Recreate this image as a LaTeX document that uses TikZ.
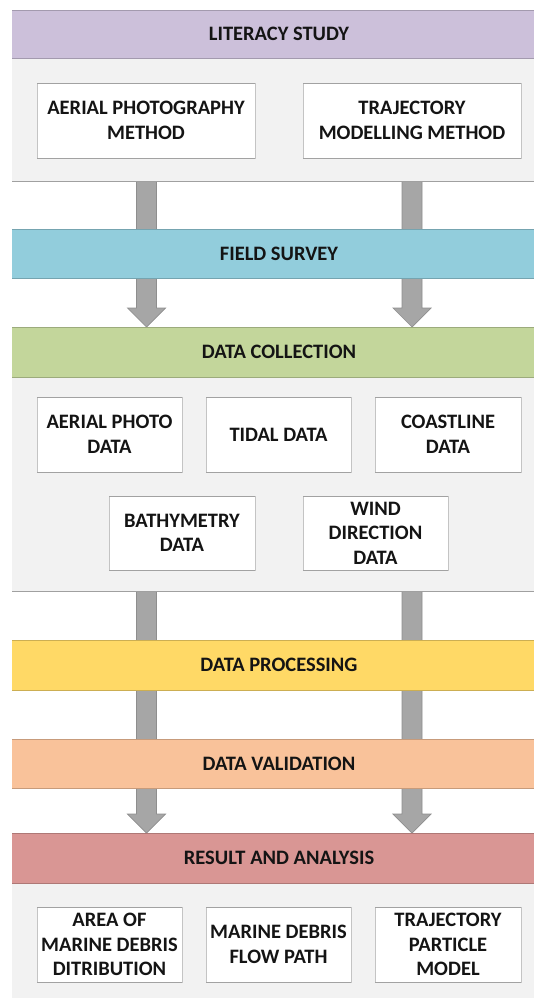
\documentclass[tikz,border=0pt]{standalone}
\usepackage{fontspec}
\setmainfont{Carlito}
\usetikzlibrary{calc,backgrounds}

\definecolor{lavender}{HTML}{CCC0DA}
\definecolor{aqua}{HTML}{92CDDC}
\definecolor{olive}{HTML}{C3D69B}
\definecolor{gold}{HTML}{FFD966}
\definecolor{peach}{HTML}{F9C29A}
\definecolor{rose}{HTML}{D99694}
\definecolor{panelgray}{HTML}{F2F2F2}
\definecolor{panelline}{HTML}{A0A0A0}
\definecolor{boxside}{HTML}{C4C4C4}
\definecolor{boxedge}{HTML}{A2A2A2}
\definecolor{arrowfill}{HTML}{A6A6A6}
\definecolor{arrowline}{HTML}{8E8E8E}
\definecolor{ink}{HTML}{141414}

\begin{document}
\begin{tikzpicture}[x=1pt,y=-1pt,
  every node/.style={font=\bfseries\fontsize{20.5}{24.5}\selectfont, text=ink,
    align=center, inner sep=0pt, outer sep=0pt},
  band/.style={fill=#1, draw=none, minimum width=534pt, minimum height=49pt,
    append after command={
      (\tikzlastnode.north west) edge[draw=#1!80!black, line width=0.8pt] (\tikzlastnode.north east)
      (\tikzlastnode.south west) edge[draw=#1!80!black, line width=0.8pt] (\tikzlastnode.south east)}},
  panel/.style={fill=panelgray, draw=none, minimum width=534pt},
  panelbottom/.style={append after command={
      (\tikzlastnode.south west) edge[draw=panelline, line width=0.8pt] (\tikzlastnode.south east)}},
  box/.style={fill=white, draw=boxside, line width=0.5pt,
    minimum width=#1, minimum height=75pt,
    append after command={
      (\tikzlastnode.north west) edge[draw=boxedge, line width=0.9pt] (\tikzlastnode.north east)
      (\tikzlastnode.south west) edge[draw=boxedge, line width=0.9pt] (\tikzlastnode.south east)}},
  box/.default=145pt,
  fatarrow/.style={fill=arrowfill, draw=arrowline, line width=0.7pt, line join=miter,
    to path={let \p1=(\tikztostart), \p2=(\tikztotarget) in
      (\x1-10pt,\y1) -- (\x1-10pt,\y2+19pt) -- (\x1-19pt,\y2+19pt) -- (\x1,\y2)
      -- (\x1+19pt,\y2+19pt) -- (\x1+10pt,\y2+19pt) -- (\x1+10pt,\y1) -- cycle}}
]
\useasboundingbox (0,0) rectangle (534,998);
\clip (0,0) rectangle (534,998);

\begin{scope}[on background layer]
  \fill[white] (0,0) rectangle (534,998);
\end{scope}

% top stage: literature review and the two methods
\node[panel, panelbottom, minimum height=123pt] (p1) at (279,119.5) {};
\node[band=lavender, minimum height=48pt] (lit) at (279,34) {LITERACY STUDY};
\node[box=218pt] (apm) at (146,120.5) {AERIAL PHOTOGRAPHY\\METHOD};
\node[box=218pt] (tmm) at (412,120.5) {TRAJECTORY\\MODELLING METHOD};

\node[band=aqua] (fs) at (279,253.5) {FIELD SURVEY};

% data collection stage
\node[panel, panelbottom, minimum height=214pt] (p2) at (279,484) {};
\node[band=olive, minimum height=50pt] (dc) at (279,352) {DATA COLLECTION};
\node[box] (apd) at (109.5,434.5) {AERIAL PHOTO\\DATA};
\node[box] (tid) at (278.5,434.5) {TIDAL DATA};
\node[box=146pt] (cst) at (448,434.5) {COASTLINE\\DATA};
\node[box=146pt, minimum height=74pt] (bat) at (182,533) {BATHYMETRY\\DATA};
\node[box, minimum height=74pt] (wnd) at (375.5,533) {WIND\\DIRECTION\\DATA};

\node[band=gold, minimum height=50pt] (dp) at (279,665) {DATA PROCESSING};
\node[band=peach] (dv) at (279,763.5) {DATA VALIDATION};

% results stage
\node[panel, minimum height=115pt] (p3) at (279,940.5) {};
\node[band=rose, minimum height=50pt] (ra) at (279,858) {RESULT AND ANALYSIS};
\node[box] (amd) at (109.5,944.5) {AREA OF\\MARINE DEBRIS\\DITRIBUTION};
\node[box] (mfp) at (278.5,944.5) {MARINE DEBRIS\\FLOW PATH};
\node[box=146pt] (tpm) at (448,944.5) {TRAJECTORY\\PARTICLE\\MODEL};

% the two flow columns
\coordinate (colA) at (146.5,0);
\coordinate (colB) at (412,0);
\coordinate (a1s) at (colA |- p1.south);
\coordinate (a1e) at (colA |- dc.north);
\coordinate (b1s) at (colB |- p1.south);
\coordinate (b1e) at (colB |- dc.north);
\coordinate (a2s) at (colA |- p2.south);
\coordinate (a2e) at (colA |- ra.north);
\coordinate (b2s) at (colB |- p2.south);
\coordinate (b2e) at (colB |- ra.north);

\begin{scope}[on background layer]
  \draw[fatarrow] (a1s) to (a1e);
  \draw[fatarrow] (b1s) to (b1e);
  \draw[fatarrow] (a2s) to (a2e);
  \draw[fatarrow] (b2s) to (b2e);
\end{scope}
\end{tikzpicture}
\end{document}
